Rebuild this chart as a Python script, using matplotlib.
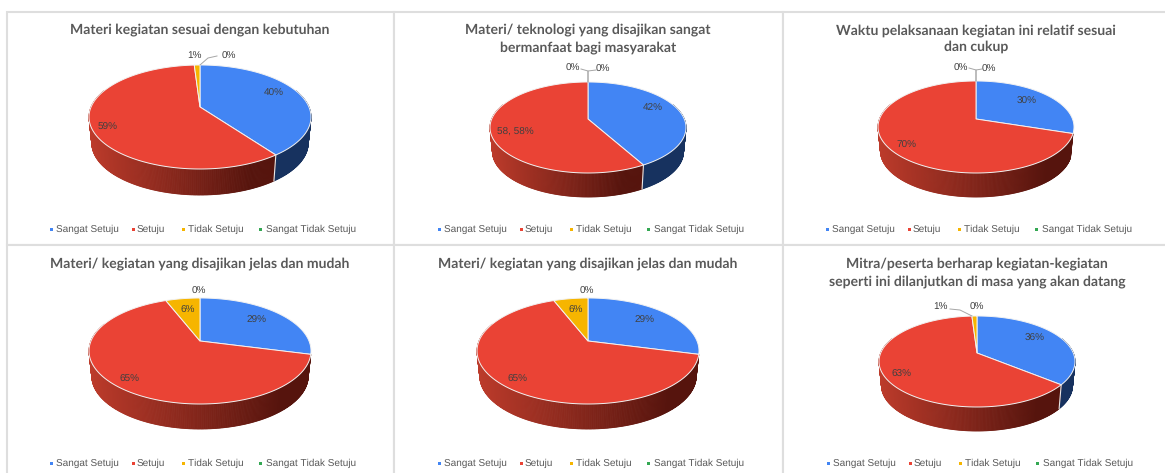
import numpy as np
import matplotlib
matplotlib.use('Agg')
import matplotlib.pyplot as plt
from matplotlib.patches import Rectangle

categories = ['Sangat Setuju', 'Setuju', 'Tidak Setuju', 'Sangat Tidak Setuju']
titles = [
    'Materi kegiatan sesuai dengan kebutuhan',
    'Materi/ teknologi yang disajikan sangat\nbermanfaat bagi masyarakat',
    'Waktu pelaksanaan kegiatan ini relatif sesuai\ndan cukup',
    'Materi/ kegiatan yang disajikan jelas dan mudah',
    'Materi/ kegiatan yang disajikan jelas dan mudah',
    'Mitra/peserta berharap kegiatan-kegiatan\nseperti ini dilanjutkan di masa yang akan datang',
]
values_1 = [40, 59, 1, 0]
values_2 = [42, 58, 0, 0]
values_3 = [30, 70, 0, 0]
values_4 = [29, 65, 6, 0]
values_5 = [29, 65, 6, 0]
values_6 = [36, 63, 1, 0]
all_values = [values_1, values_2, values_3, values_4, values_5, values_6]
labels_1 = ['40%', '59%', '1%', '0%']
labels_2 = ['42%', '58, 58%', '0%', '0%']
labels_3 = ['30%', '70%', '0%', '0%']
labels_4 = ['29%', '65%', '6%', '0%']
labels_5 = ['29%', '65%', '6%', '0%']
labels_6 = ['36%', '63%', '1%', '0%']
all_labels = [labels_1, labels_2, labels_3, labels_4, labels_5, labels_6]

colors = ['#4285F4', '#EA4335', '#F6B500', '#34A853']
side_blue = '#17325F'
TITLE_COLOR = '#595959'
LABEL_COLOR = '#404040'
BORDER = '#DEDEDE'

# layout in reference pixels
panels = [(7, 12, 387, 233), (394, 12, 389, 233), (783, 12, 386, 233),
          (7, 245, 387, 233), (394, 245, 389, 233), (783, 245, 386, 233)]
# cx, apex y, half width, far, near, depth
pies = [(200, 107, 111, 42, 62, 26), (588, 119, 98, 37, 54, 24), (976, 119, 98, 38, 54, 24),
        (200, 341, 111, 43, 63, 25), (588, 341, 111, 43, 63, 25), (977, 353, 98, 37, 54, 24)]
title_y = [29.5, 38.5, 38.5, 264, 264, 272.5]
legend_y = [229, 229, 229, 463, 463, 463]
label_pos = [
    [(274, 93.5), (108, 127.5), (194, 56.5), (229, 56.5)],
    [(653, 108.5), (515, 132.5), (573, 68.5), (603, 69.5)],
    [(1027, 101.5), (906, 145.5), (961, 68.5), (989, 69.5)],
    [(257, 320.5), (129, 379.5), (188, 310.5), (199, 291.5)],
    [(645, 320.5), (517, 379.5), (576, 310.5), (587, 291.5)],
    [(1035, 338.5), (901, 374.5), (940, 307.5), (977, 307.5)],
]
leaders = [
    [((200, 65), (208, 58), (217, 56))],
    [((588, 82), (588, 71), (596, 70)), ((588, 82), (588, 71), (581, 69))],
    [((976, 81), (976, 70), (982, 69)), ((976, 81), (976, 70), (969, 68))],
    [],
    [],
    [((972, 316), (960, 310), (950, 309))],
]
legend_marks = [-149, -67, -17, 60]
legend_text = [-144, -63, -12, 66]

plt.rcParams['font.family'] = ['Liberation Sans', 'DejaVu Sans']
plt.rcParams['text.hinting'] = 'no_hinting'
plt.rcParams['text.hinting_factor'] = 1
fig = plt.figure(figsize=(11.65, 4.73), dpi=100)
ax = fig.add_axes([0, 0, 1, 1])
ax.set_xlim(0, 1165)
ax.set_ylim(473, 0)
ax.axis('off')


def rim(theta, pie):
    # theta clockwise from 12 o'clock, perspective view of the disc
    cx, ay, hw, far, near, depth = pie
    k = (near - far) / (near + far)
    h = far * (1 + k)
    a = hw * np.sqrt(1 - k * k)
    u, v = np.sin(theta), np.cos(theta)
    w = 1 + k * v
    return cx + a * u / w, ay - h * v / w


def red_shade(t):
    c0 = np.array([0xBC, 0x3B, 0x2B]) / 255
    c1 = np.array([0x56, 0x14, 0x0D]) / 255
    return tuple(c0 + (c1 - c0) * np.clip(t * 1.15, 0, 1))


def draw_pie(values, pie):
    cx, ay, hw, far, near, depth = pie
    edges = 2 * np.pi * np.cumsum([0] + values) / sum(values)
    first_end = edges[1]
    x_right = rim(max(first_end, np.pi / 2), pie)[0]
    # side wall first, in thin strips so the gradient shows
    for i in range(len(values)):
        if values[i] == 0:
            continue
        if i == 0 and first_end < 2.0:
            continue
        th = np.arange(edges[i], edges[i + 1] + 0.01, 0.01)
        th[-1] = min(th[-1], edges[i + 1])
        for a0, a1 in zip(th[:-1], th[1:]):
            if np.cos((a0 + a1) / 2) > 0.35:
                continue
            x0, y0 = rim(a0, pie)
            x1, y1 = rim(a1, pie)
            xb0 = cx + (x0 - cx) * 0.975
            xb1 = cx + (x1 - cx) * 0.975
            if i == 0:
                col = side_blue
            else:
                col = red_shade((x0 - (cx - hw)) / (x_right - (cx - hw)))
            ax.fill([x0, x1, xb1, xb0], [y0, y1, y1 + depth, y0 + depth],
                    color=col, lw=0.6, zorder=2)
    # light seam where blue and red walls meet
    if first_end >= 2.0:
        x0, y0 = rim(first_end, pie)
        ax.plot([x0, cx + (x0 - cx) * 0.975], [y0, y0 + depth], color='#E8E8E8', lw=0.8, zorder=3)
    # top face
    for i in range(len(values)):
        if values[i] == 0:
            continue
        th = np.linspace(edges[i], edges[i + 1], 200)
        xs, ys = rim(th, pie)
        ax.fill(np.r_[cx, xs], np.r_[ay, ys], facecolor=colors[i],
                edgecolor='#F2F2F2', lw=0.7, zorder=4)


for p, (px, py, pw, ph) in enumerate(panels):
    ax.add_patch(Rectangle((px, py), pw, ph, facecolor='white', edgecolor=BORDER,
                           lw=1.5, zorder=1, clip_on=True))
    pie = pies[p]
    cx = pie[0]
    draw_pie(all_values[p], pie)
    ax.text(cx, title_y[p], titles[p], ha='center', va='center', family=['Lato', 'DejaVu Sans'],
            fontweight='bold', fontsize=10.27, color=TITLE_COLOR, linespacing=1.4, zorder=6)
    for lab, (lx, ly) in zip(all_labels[p], label_pos[p]):
        ax.text(lx, ly, lab, ha='center', va='center', fontsize=7.2, color=LABEL_COLOR, zorder=6)
    for seg in leaders[p]:
        xs, ys = zip(*seg)
        ax.plot(xs, ys, color='#A6A6A6', lw=0.7, zorder=5)
    for i, cat in enumerate(categories):
        ax.add_patch(Rectangle((cx + legend_marks[i] - 1.5, legend_y[p] - 1.5), 3, 3,
                               facecolor=colors[i], edgecolor='none', zorder=6))
        ax.text(cx + legend_text[i], legend_y[p], cat, ha='left', va='center', fontsize=6.9,
                color=TITLE_COLOR, zorder=6)

fig.savefig('out.png', dpi=100, facecolor='white')
